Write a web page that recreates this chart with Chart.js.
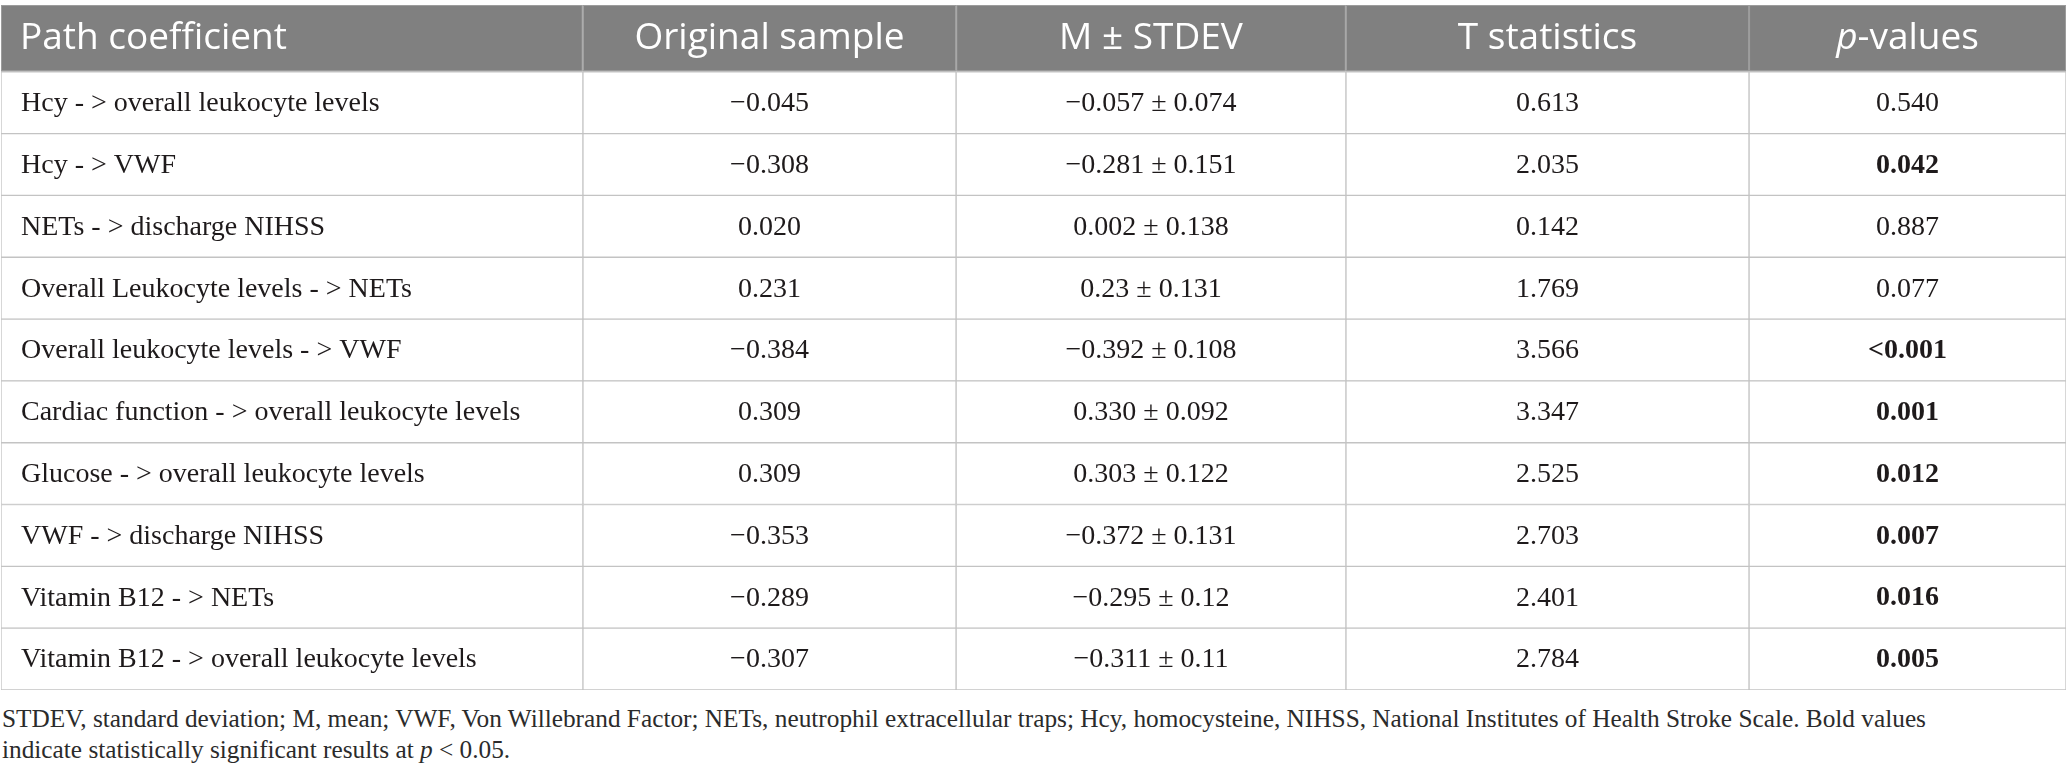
<!DOCTYPE html>
<html>
<head>
<meta charset="utf-8">
<script src="https://cdn.jsdelivr.net/npm/chart.js@4"></script>
<style>
  html, body { margin: 0; padding: 0; background: #fff; }
  #wrap { position: relative; width: 2067px; height: 780px; }
  #note { position: absolute; left: 2px; top: 703px; font: 25.3px "Liberation Serif", serif; line-height: 31px; color: #2b2b2b; white-space: nowrap; }
</style>
</head>
<body>
<div id="wrap">
  <canvas id="tbl" width="2067" height="692"></canvas>
  <div id="note">STDEV, standard deviation; M, mean; VWF, Von Willebrand Factor; NETs, neutrophil extracellular traps; Hcy, homocysteine, NIHSS, National Institutes of Health Stroke Scale. Bold values<br>indicate statistically significant results at <i>p</i> &lt; 0.05.</div>
</div>
<script>
// table content
var headers = ["Path coefficient", "Original sample", "M \u00b1 STDEV", "T statistics", "p-values"];
var paths = [
  "Hcy - > overall leukocyte levels",
  "Hcy - > VWF",
  "NETs - > discharge NIHSS",
  "Overall Leukocyte levels - > NETs",
  "Overall leukocyte levels - > VWF",
  "Cardiac function - > overall leukocyte levels",
  "Glucose - > overall leukocyte levels",
  "VWF - > discharge NIHSS",
  "Vitamin B12 - > NETs",
  "Vitamin B12 - > overall leukocyte levels"
];
var originalSample = ["\u22120.045", "\u22120.308", "0.020", "0.231", "\u22120.384", "0.309", "0.309", "\u22120.353", "\u22120.289", "\u22120.307"];
var means = ["\u22120.057", "\u22120.281", "0.002", "0.23", "\u22120.392", "0.330", "0.303", "\u22120.372", "\u22120.295", "\u22120.311"];
var stdevs = ["0.074", "0.151", "0.138", "0.131", "0.108", "0.092", "0.122", "0.131", "0.12", "0.11"];
var tStats = ["0.613", "2.035", "0.142", "1.769", "3.566", "3.347", "2.525", "2.703", "2.401", "2.784"];
var pValues = ["0.540", "0.042", "0.887", "0.077", "<0.001", "0.001", "0.012", "0.007", "0.016", "0.005"];

// layout: column edges in percent of width, header row a bit taller than body rows
var colEdges = [0, 28.18, 46.25, 65.13, 84.65, 100];
var headScale = 1.08;
var headPos = -(headScale - 1) / 2;
var headBg = "#808080";
var lineCol = "#c3c3c3";
var headFont = "37px 'Open Sans'";
var bodyFont = "28px 'Liberation Serif'";

function cellText(r, c) {
  if (c == 0) return paths[r];
  if (c == 1) return originalSample[r];
  if (c == 2) return means[r] + " \u00b1 " + stdevs[r];
  if (c == 3) return tStats[r];
  return pValues[r];
}
function isSignificant(r) {
  return parseFloat(pValues[r].replace("<", "")) < 0.05;
}

var datasets = [];
for (var c = 0; c < headers.length; c++) {
  datasets.push({
    label: headers[c],
    col: c,
    head: true,
    data: [{ x: [colEdges[c], colEdges[c + 1]], y: headPos }],
    backgroundColor: headBg,
    borderColor: "#9c9c9c",
    borderWidth: 1,
    borderSkipped: false,
    barPercentage: headScale,
    categoryPercentage: 1,
    grouped: false
  });
  datasets.push({
    label: headers[c],
    col: c,
    head: false,
    data: paths.map(function(p, i) { return { x: [colEdges[c], colEdges[c + 1]], y: i + 1 }; }),
    backgroundColor: "#ffffff",
    borderColor: lineCol,
    borderWidth: 1,
    borderSkipped: false,
    barPercentage: 1,
    categoryPercentage: 1,
    grouped: false
  });
}

var textPlugin = {
  id: "cellText",
  afterDatasetsDraw: function(chart) {
    var ctx = chart.ctx;
    ctx.save();
    ctx.textBaseline = "middle";
    chart.data.datasets.forEach(function(ds, d) {
      var c = ds.col;
      chart.getDatasetMeta(d).data.forEach(function(el, r) {
        var left = Math.min(el.x, el.base), right = Math.max(el.x, el.base);
        var cx = (left + right) / 2, cy = el.y;
        if (ds.head) {
          ctx.fillStyle = "#ffffff";
          if (c == 4) {
            // italic p + "-values"
            ctx.font = "italic " + headFont;
            var w1 = ctx.measureText("p").width;
            ctx.font = headFont;
            var w2 = ctx.measureText("-values").width;
            var sx = cx - (w1 + w2) / 2;
            ctx.textAlign = "left";
            ctx.font = "italic " + headFont;
            ctx.fillText("p", sx, cy);
            ctx.font = headFont;
            ctx.fillText("-values", sx + w1, cy);
          } else {
            ctx.font = headFont;
            ctx.textAlign = c == 0 ? "left" : "center";
            ctx.fillText(headers[c], c == 0 ? left + 19 : cx, cy);
          }
          return;
        }
        ctx.fillStyle = "#1e1a1b";
        var bold = c == 4 && isSignificant(r);
        ctx.font = (bold ? "bold " : "") + bodyFont;
        ctx.textAlign = c == 0 ? "left" : "center";
        ctx.fillText(cellText(r, c), c == 0 ? left + 20 : cx, cy + 1);
      });
    });
    ctx.restore();
  }
};

new Chart(document.getElementById("tbl"), {
  type: "bar",
  data: { datasets: datasets },
  options: {
    indexAxis: "y",
    responsive: false,
    animation: false,
    layout: { padding: { top: 5, left: 1, right: 1, bottom: 2 } },
    scales: {
      x: { type: "linear", min: 0, max: 100, display: false },
      y: {
        type: "linear",
        bounds: "data",
        offset: false,
        min: -0.5 - (headScale - 1),
        max: paths.length + 0.5,
        reverse: true,
        display: false,
        // one tick per body row so bar thickness = one row
        afterBuildTicks: function(axis) {
          axis.ticks = paths.map(function(p, i) { return { value: i + 1 }; });
        }
      }
    },
    plugins: { legend: { display: false }, tooltip: { enabled: false } }
  },
  plugins: [textPlugin]
});
</script>
</body>
</html>
